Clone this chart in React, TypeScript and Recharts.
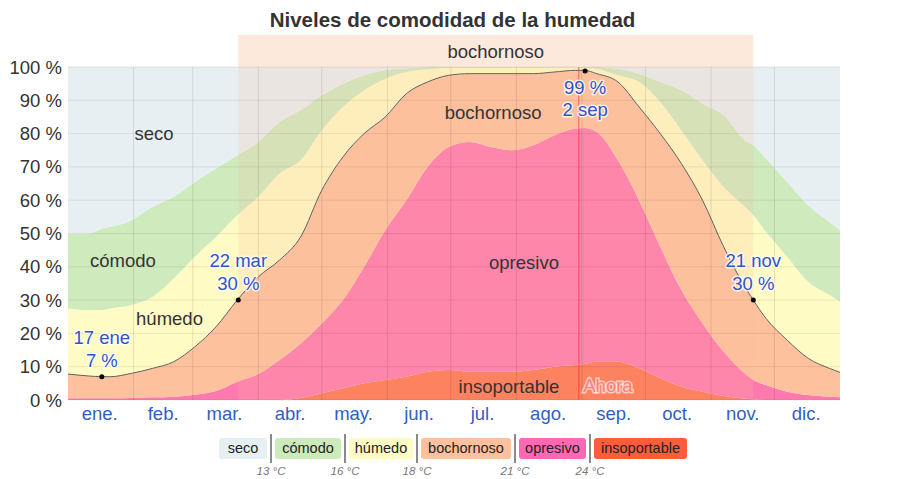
import React from 'react';
import { ComposedChart, Area, Line, XAxis, YAxis, ReferenceLine, ReferenceArea, ReferenceDot } from 'recharts';

const days = [0, 10, 16, 20, 30, 40, 50, 60, 70, 80, 90, 100, 110, 120, 130, 140, 150, 160, 170, 180, 190, 200, 210, 220, 230, 240, 244, 250, 260, 270, 280, 290, 300, 310, 320, 324, 330, 340, 350, 360, 365];
const insoportableTop = [0, 0, 0, 0, 0, 0, 0, 0, 0, 0, 0, 0, 0.6, 2, 3.5, 5, 6, 7, 8.5, 9, 8.5, 8.5, 8.5, 9, 10, 10.5, 10.8, 11.5, 11.5, 9.5, 6.5, 4, 2.5, 1.2, 0.4, 0.2, 0, 0, 0, 0, 0];
const opresivoTop = [0.5, 0.5, 0.5, 0.5, 0.6, 0.8, 1, 1.6, 2.7, 5.5, 7.8, 12, 17, 23, 30, 40, 51, 60, 70, 76, 77.5, 76, 75, 76.5, 79.5, 81.5, 81.7, 80.5, 72, 60, 46, 33, 23, 14.5, 8, 6, 4.5, 2.5, 1.5, 1, 0.8];
const bochornosoTop = [7.8, 7.2, 7, 7, 8, 9.5, 11.5, 16, 22, 30, 37, 42, 49, 63, 73, 80, 85, 92, 95.5, 97.5, 98, 98, 98, 98, 98.5, 99, 99, 98, 95.5, 88, 80, 71, 60, 46, 34, 30, 24.5, 18, 12.5, 9.5, 8.3];
const humedoTop = [27.5, 27, 27, 27.5, 28.5, 31, 36.5, 43, 49, 55.5, 61, 68, 72, 81, 88, 93, 96.5, 98.5, 99.3, 99.7, 99.8, 99.8, 99.8, 99.8, 99.8, 99.8, 99.8, 99.5, 97.5, 95.5, 89.5, 81, 72, 64, 58, 55.5, 50.5, 43, 35.5, 31.5, 29.5];
const comodoTop = [50, 50, 51.5, 52, 54, 58, 61, 65.5, 69.5, 73.5, 77.5, 83.5, 87, 91.5, 95, 97.5, 99, 99.6, 100, 100, 100, 100, 100, 100, 100, 100, 100, 100, 99.5, 98, 95.5, 93, 89, 85.5, 78, 76.5, 72.5, 65.5, 58.5, 53.5, 51];

const monthTicks = [15, 45, 74, 105, 135, 166, 196, 227, 258, 288, 319, 349];
const monthLabels = ['ene.', 'feb.', 'mar.', 'abr.', 'may.', 'jun.', 'jul.', 'ago.', 'sep.', 'oct.', 'nov.', 'dic.'];
const monthStarts = [31, 59, 90, 120, 151, 181, 212, 243, 273, 304, 334];
const yTicks = [0, 10, 20, 30, 40, 50, 60, 70, 80, 90, 100];

const muggyStart = 80.5;
const muggyEnd = 324;
const today = 241.5;

const annotations = [
  { day: 16, value: 7, lines: ['17 ene', '7 %'], below: false },
  { day: 80.5, value: 30, lines: ['22 mar', '30 %'], below: false },
  { day: 244.5, value: 98.8, lines: ['99 %', '2 sep'], below: true },
  { day: 324, value: 30, lines: ['21 nov', '30 %'], below: false },
];

const regionLabels = [
  { day: 40.7, value: 80, text: 'seco' },
  { day: 26, value: 42, text: 'cómodo' },
  { day: 48, value: 24.6, text: 'húmedo' },
  { day: 201, value: 86.2, text: 'bochornoso' },
  { day: 215.6, value: 41.4, text: 'opresivo' },
  { day: 208.5, value: 4.2, text: 'insoportable' },
];

const legendItems = [
  { name: 'seco', color: '#e6eff2', width: 48 },
  { name: 'cómodo', color: '#cdeabb', width: 66 },
  { name: 'húmedo', color: '#fffbc4', width: 64 },
  { name: 'bochornoso', color: '#fdc19d', width: 90 },
  { name: 'opresivo', color: '#ff68b2', width: 67 },
  { name: 'insoportable', color: '#ff5c3c', width: 93 },
];
const legendTemps = ['13 °C', '16 °C', '18 °C', '21 °C', '24 °C'];

const data = days.map((d, i) => ({
  day: d,
  ins: insoportableTop[i],
  opr: opresivoTop[i] - insoportableTop[i],
  boc: bochornosoTop[i] - opresivoTop[i],
  hum: humedoTop[i] - bochornosoTop[i],
  com: comodoTop[i] - humedoTop[i],
  sec: 100 - comodoTop[i],
  line: bochornosoTop[i],
}));

const FONT = '"Liberation Sans", Arial, sans-serif';

const AnnLabel = (props: any) => {
  const { viewBox, lines, below } = props;
  if (!viewBox) return null;
  const cx = viewBox.x + (viewBox.width || 0) / 2;
  const cy = viewBox.y + (viewBox.height || 0) / 2;
  const y1 = below ? cy + 23 : cy - 33;
  const y2 = below ? cy + 45 : cy - 10;
  const common = {
    x: cx,
    textAnchor: 'middle' as const,
    fill: '#2f55c8',
    stroke: 'rgba(255,255,255,0.75)',
    strokeWidth: 3,
    strokeLinejoin: 'round' as const,
    paintOrder: 'stroke',
    fontSize: 18.5,
    fontFamily: FONT,
  };
  return (
    <g>
      <text {...common} y={y1}>{lines[0]}</text>
      <text {...common} y={y2}>{lines[1]}</text>
    </g>
  );
};

const RegionLabel = (props: any) => {
  const { viewBox, text, color, halo } = props;
  if (!viewBox) return null;
  const cx = viewBox.x + (viewBox.width || 0) / 2;
  const cy = viewBox.y + (viewBox.height || 0) / 2;
  return (
    <text
      x={cx}
      y={cy + 6.5}
      textAnchor="middle"
      fill={color || '#333'}
      stroke={halo ? 'rgba(255,255,255,0.6)' : 'none'}
      strokeWidth={halo ? 3 : 0}
      paintOrder="stroke"
      fontSize={18.5}
      fontFamily={FONT}
    >
      {text}
    </text>
  );
};

export default function App() {
  return (
    <div style={{ position: 'absolute', left: 0, top: 0, width: 901, height: 479, background: '#fff', fontFamily: FONT }}>
      <div
        style={{
          position: 'absolute',
          left: 0,
          top: 9,
          width: 905,
          textAlign: 'center',
          fontSize: 20.5,
          lineHeight: '21px',
          fontWeight: 700,
          color: '#333',
        }}
      >
        Niveles de comodidad de la humedad
      </div>
      <ComposedChart width={901} height={479} data={data} margin={{ top: 67, right: 0, bottom: 49, left: 0 }}>
        <XAxis
          dataKey="day"
          type="number"
          domain={[0, 365]}
          ticks={monthTicks}
          tickFormatter={(v: number) => monthLabels[monthTicks.indexOf(v)]}
          axisLine={false}
          tickLine={false}
          tickSize={0}
          tickMargin={7}
          height={30}
          tick={{ fill: '#2f5fc4', fontSize: 18.5, fontFamily: FONT }}
          interval={0}
          allowDataOverflow
        />
        <YAxis
          yAxisId={0}
          domain={[0, 100]}
          ticks={yTicks}
          tickFormatter={(v: number) => `${v} %`}
          axisLine={false}
          tickLine={false}
          tickSize={0}
          tickMargin={6}
          width={68}
          tick={{ fill: '#333', fontSize: 18.5, fontFamily: FONT }}
          interval={0}
        />
        <YAxis
          yAxisId="r"
          orientation="right"
          domain={[0, 100]}
          ticks={yTicks}
          tickFormatter={(v: number) => `${v} %`}
          axisLine={false}
          tickLine={false}
          tickSize={0}
          tickMargin={6}
          width={61}
          tick={{ fill: '#333', fontSize: 18.5, fontFamily: FONT, textAnchor: 'start' }}
          interval={0}
        />
        <Area type="monotone" dataKey="ins" stackId="s" stroke="none" fill="#fd7350" fillOpacity={1} isAnimationActive={false} />
        <Area type="monotone" dataKey="opr" stackId="s" stroke="none" fill="#fe79ad" fillOpacity={1} isAnimationActive={false} />
        <Area type="monotone" dataKey="boc" stackId="s" stroke="none" fill="#fdc19d" fillOpacity={1} isAnimationActive={false} />
        <Area type="monotone" dataKey="hum" stackId="s" stroke="none" fill="#fffbc4" fillOpacity={1} isAnimationActive={false} />
        <Area type="monotone" dataKey="com" stackId="s" stroke="none" fill="#cfeabd" fillOpacity={1} isAnimationActive={false} />
        <Area type="monotone" dataKey="sec" stackId="s" stroke="none" fill="#e7eff2" fillOpacity={1} isAnimationActive={false} />
        <ReferenceArea
          x1={muggyStart}
          x2={muggyEnd}
          y1={0}
          y2={100}
          fill="rgb(250,190,160)"
          fillOpacity={0.2}
          stroke="none"
          zIndex={150}
        />
        <ReferenceArea
          x1={muggyStart}
          x2={muggyEnd}
          y1={100}
          y2={109.6}
          ifOverflow="visible"
          fill="#fde8dc"
          fillOpacity={1}
          stroke="none"
          zIndex={150}
          label={{ value: 'bochornoso', position: 'center', fill: '#333', fontSize: 18.5, fontFamily: FONT }}
        />
        {yTicks.map((t) => (
          <ReferenceLine key={'h' + t} y={t} stroke="rgba(0,0,0,0.08)" strokeWidth={1} zIndex={450} />
        ))}
        {monthStarts.map((m) => (
          <ReferenceLine key={'v' + m} x={m} stroke="rgba(0,0,0,0.1)" strokeWidth={1} zIndex={450} />
        ))}
        <ReferenceLine x={today} stroke="rgba(255,40,40,0.55)" strokeWidth={1.2} zIndex={460} />
        <Line type="monotone" dataKey="line" stroke="#606060" strokeWidth={1} dot={false} activeDot={false} isAnimationActive={false} zIndex={470} />
        {regionLabels.map((r) => (
          <ReferenceDot key={r.text} x={r.day} y={r.value} r={0} fill="none" stroke="none" label={<RegionLabel text={r.text} />} />
        ))}
        <ReferenceDot x={255.3} y={4.5} r={0} fill="none" stroke="none" label={<RegionLabel text="Ahora" color="#ff7f7f" halo />} />
        {annotations.map((a) => (
          <ReferenceDot
            key={a.lines.join('-')}
            x={a.day}
            y={a.value}
            r={2.5}
            fill="#000"
            stroke="none"
            label={<AnnLabel lines={a.lines} below={a.below} />}
          />
        ))}
      </ComposedChart>
      <div style={{ position: 'absolute', left: 219, top: 434, display: 'flex', alignItems: 'center', height: 29 }}>
        {legendItems.map((it, i) => (
          <React.Fragment key={it.name}>
            {i > 0 && <div style={{ width: 2, height: 29, background: '#8a8a8a', margin: '0 3px' }} />}
            <div
              style={{
                width: it.width,
                height: 21,
                lineHeight: '21px',
                background: it.color,
                borderRadius: 3,
                textAlign: 'center',
                fontSize: 14.5,
                color: '#222',
              }}
            >
              {it.name}
            </div>
          </React.Fragment>
        ))}
      </div>
      {legendTemps.map((t, i) => {
        let x = 219;
        for (let k = 0; k <= i; k++) x += legendItems[k].width + (k === 0 ? 3 : 8);
        return (
          <div
            key={t}
            style={{
              position: 'absolute',
              left: x - 30 + 1,
              width: 60,
              top: 465,
              textAlign: 'center',
              fontSize: 11.5,
              fontStyle: 'italic',
              color: '#777',
            }}
          >
            {t}
          </div>
        );
      })}
    </div>
  );
}
